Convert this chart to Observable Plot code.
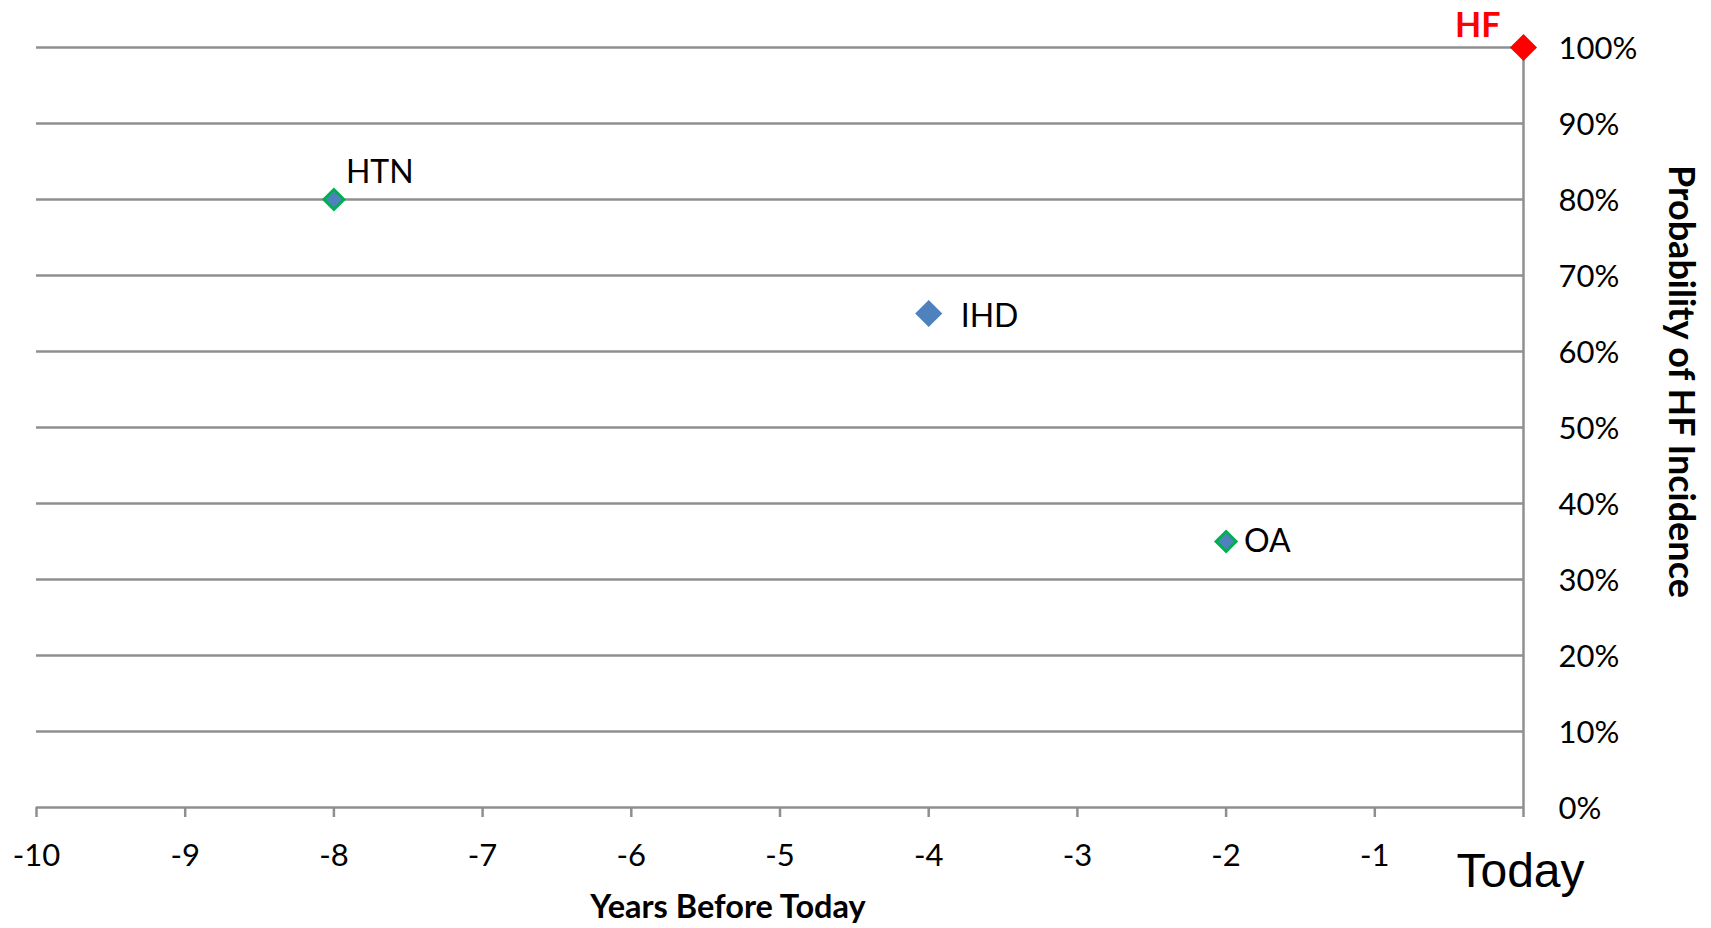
<!DOCTYPE html>
<html>
<head>
<meta charset="utf-8">
<script src="https://cdn.jsdelivr.net/npm/d3@7"></script>
<script src="https://cdn.jsdelivr.net/npm/@observablehq/plot@0.6"></script>
<style>
  html, body { margin: 0; padding: 0; background: #ffffff; }
  #chart svg { display: block; }
</style>
</head>
<body>
<div id="chart"></div>
<script>
// Data
const conditions = ["HTN", "IHD", "OA", "HF"];
const years = [-8, -4, -2, 0];
const probability = [0.80, 0.65, 0.35, 1.00];

const xTicks = [-10, -9, -8, -7, -6, -5, -4, -3, -2, -1, 0];
const yTicks = [0, 0.1, 0.2, 0.3, 0.4, 0.5, 0.6, 0.7, 0.8, 0.9, 1.0];

const xTitle = "Years Before Today";
const yTitle = "Probability of HF Incidence";
const todayLabel = "Today";

const data = conditions.map((c, i) => ({condition: c, year: years[i], probability: probability[i]}));
const pick = name => data.filter(d => d.condition === name);

const gridColor = "#8f8f8f";
const blue = "#4F81BD";
const green = "#00B050";
const red = "#FF0000";
const tickFont = "Lato, 'Open Sans', sans-serif";

const chart = Plot.plot({
  width: 1711,
  height: 928,
  marginLeft: 36,
  marginRight: 188,
  marginTop: 47,
  marginBottom: 121,
  style: {fontFamily: tickFont, fontSize: "31px", background: "#ffffff", color: "#000"},
  x: {domain: [-10, 0]},
  y: {domain: [0, 1]},
  marks: [
    Plot.ruleY(yTicks, {stroke: gridColor, strokeWidth: 2.5}),
    Plot.ruleX([0], {y1: 0, y2: 1, stroke: gridColor, strokeWidth: 2.5}),
    Plot.axisX({
      ticks: xTicks,
      tickSize: 10,
      tickPadding: 26,
      tickFormat: d => d === 0 ? "" : String(d),
      stroke: gridColor,
      strokeWidth: 2.5,
      fontSize: 31,
      fill: "#000",
      label: null
    }),
    Plot.axisY({
      anchor: "right",
      ticks: yTicks,
      tickSize: 0,
      tickPadding: 35,
      dy: 2,
      tickFormat: d => Math.round(d * 100) + "%",
      fontSize: 31,
      fill: "#000",
      label: null
    }),
    Plot.text([todayLabel], {
      x: 0, frameAnchor: "bottom", dx: -3, dy: 79,
      fontSize: 48, fontFamily: "'Liberation Sans', Arial, sans-serif", fill: "#000"
    }),
    Plot.text([xTitle], {
      frameAnchor: "bottom", dx: -52, dy: 110,
      fontSize: 32.5, fontWeight: "bold", fill: "#000"
    }),
    Plot.text([yTitle], {
      frameAnchor: "right", textAnchor: "middle", dx: 157, dy: -46, rotate: 90,
      fontSize: 36, fontWeight: "bold", fill: "#000"
    }),
    // Points
    Plot.dot(pick("HTN"), {x: "year", y: "probability", symbol: "diamond2", r: 9, fill: blue, stroke: green, strokeWidth: 3}),
    Plot.dot(pick("IHD"), {x: "year", y: "probability", symbol: "diamond2", r: 12.2, fill: blue}),
    Plot.dot(pick("OA"), {x: "year", y: "probability", symbol: "diamond2", r: 9, fill: blue, stroke: green, strokeWidth: 3}),
    Plot.dot(pick("HF"), {x: "year", y: "probability", symbol: "diamond2", r: 12.2, fill: red}),
    // Labels
    Plot.text(pick("HTN"), {x: "year", y: "probability", text: "condition", textAnchor: "start", dx: 12, dy: -27, fontSize: 32, fill: "#000"}),
    Plot.text(pick("IHD"), {x: "year", y: "probability", text: "condition", textAnchor: "start", dx: 32, dy: 3, fontSize: 32, fill: "#000"}),
    Plot.text(pick("OA"), {x: "year", y: "probability", text: "condition", textAnchor: "start", dx: 18, dy: 0, fontSize: 32, fill: "#000"}),
    Plot.text(pick("HF"), {x: "year", y: "probability", text: "condition", textAnchor: "end", dx: -23, dy: -21, fontSize: 34, fontWeight: "bold", fill: red})
  ]
});
document.getElementById("chart").appendChild(chart);
</script>
</body>
</html>
